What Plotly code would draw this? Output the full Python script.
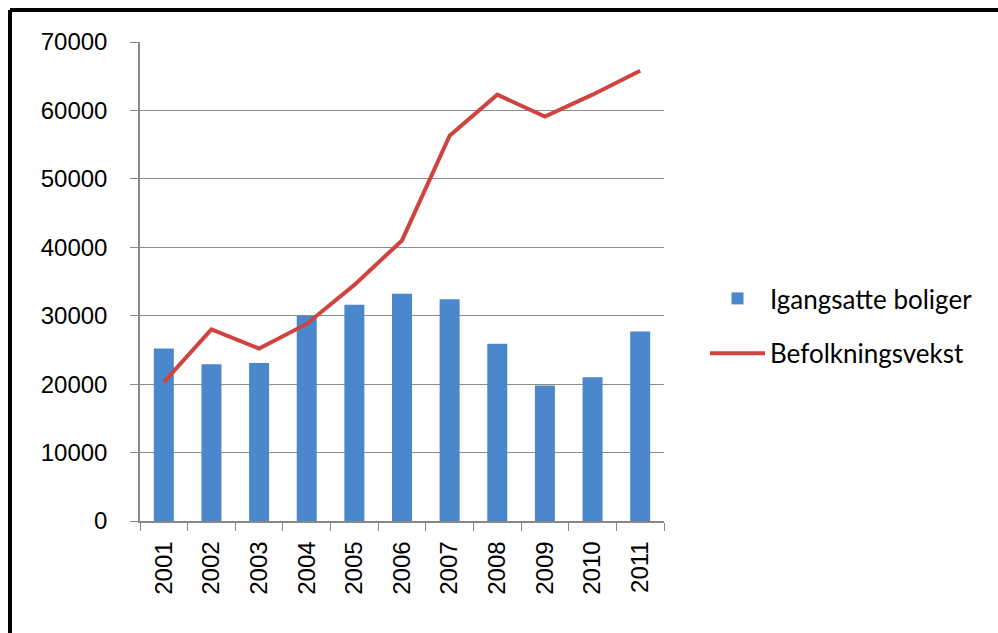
import plotly.graph_objects as go

years = ["2001", "2002", "2003", "2004", "2005", "2006", "2007", "2008", "2009", "2010", "2011"]
igangsatte = [25200, 22900, 23100, 30000, 31600, 33200, 32400, 25900, 19800, 21000, 27700]
befolkning = [20300, 28000, 25200, 28800, 34500, 41000, 56300, 62300, 59100, 62300, 65800]
y_ticks = [0, 10000, 20000, 30000, 40000, 50000, 60000, 70000]

W, H = 998, 633
L, R, T, B = 140, 334, 42, 112
pw, ph = W - L - R, H - T - B

fig = go.Figure()
fig.add_trace(go.Bar(
    x=years, y=igangsatte, name="Igangsatte boliger",
    marker=dict(color="#4A87CC", line=dict(width=0)),
    legendgroup="a",
))
fig.add_trace(go.Scatter(
    x=years, y=befolkning, name="Befolkningsvekst", mode="lines",
    line=dict(color="#CF4440", width=4),
    legendgroup="b",
))

# frame lines (paper coords relative to plot area)
fx = (10 - L) / pw
fy = (H - B - 10) / ph
fig.add_shape(type="line", xref="paper", yref="paper", x0=fx, x1=(W + 10 - L) / pw,
              y0=fy, y1=fy, line=dict(color="black", width=4))
fig.add_shape(type="line", xref="paper", yref="paper", x0=fx, x1=fx,
              y0=fy, y1=(H - B - H - 10) / ph, line=dict(color="black", width=4))

fig.update_layout(
    width=W, height=H,
    margin=dict(l=L, r=R, t=T, b=B, pad=0),
    paper_bgcolor="white", plot_bgcolor="white",
    bargap=0.58,
    font=dict(family="Liberation Sans, Arial, sans-serif", size=24, color="black"),
    showlegend=True,
    legend=dict(
        x=(705 - L) / pw, y=(H - B - 326) / ph, xanchor="left", yanchor="middle",
        font=dict(family="Lato, Calibri, sans-serif", size=26, color="black"),
        traceorder="grouped", tracegroupgap=18, itemwidth=55,
        bgcolor="rgba(0,0,0,0)",
    ),
    xaxis=dict(
        type="category", tickangle=-90, showgrid=False,
        showline=True, linecolor="#888888", linewidth=1.5,
        ticks="outside", ticklen=8, tickcolor="#888888", tickson="boundaries",
        ticklabelstandoff=9,
        tickfont=dict(family="Liberation Sans, Arial, sans-serif", size=24),
    ),
    yaxis=dict(
        range=[0, 70000], tickvals=y_ticks, ticktext=[str(v) for v in y_ticks],
        showgrid=True, gridcolor="#8C8C8C", gridwidth=1.2,
        showline=True, linecolor="#888888", linewidth=1.5,
        ticks="outside", ticklen=8, tickcolor="#888888",
        ticklabelstandoff=18, zeroline=False,
        tickfont=dict(family="Liberation Sans, Arial, sans-serif", size=24),
    ),
)

fig.write_html("out.html")
